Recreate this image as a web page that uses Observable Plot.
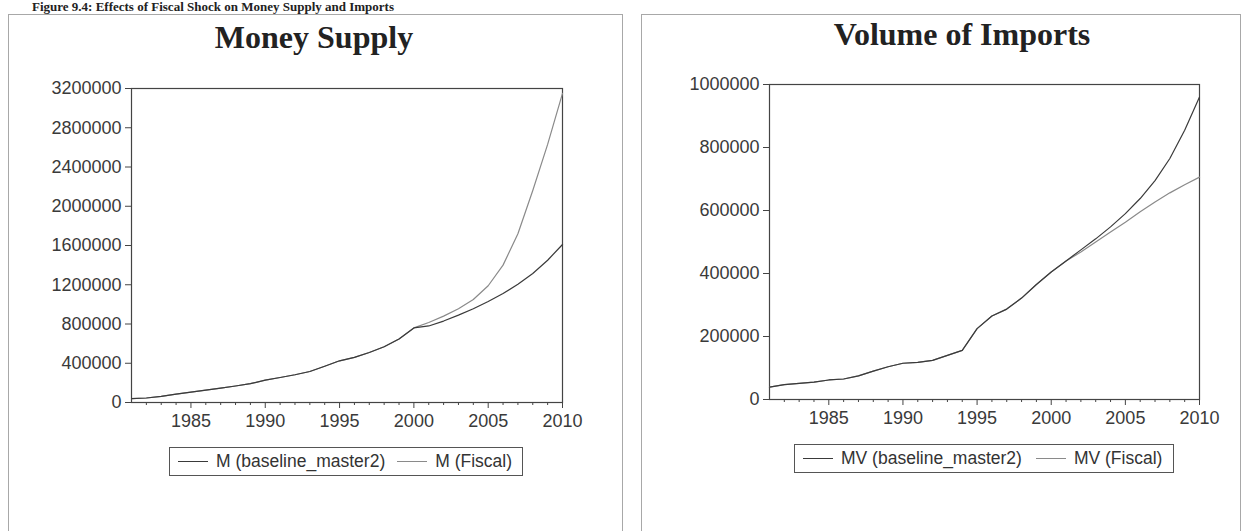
<!DOCTYPE html>
<html>
<head>
<meta charset="utf-8">
<script src="https://cdn.jsdelivr.net/npm/d3@7"></script>
<script src="https://cdn.jsdelivr.net/npm/@observablehq/plot@0.6"></script>
<style>
  html, body { margin: 0; padding: 0; background: #fff; }
  #root { position: relative; width: 1248px; height: 531px; overflow: hidden; background: #fff; }
  .caption, .title { position: absolute; font-family: "Liberation Serif", "Times New Roman", serif; font-weight: bold; color: #222; white-space: nowrap; }
  .title { font-size: 32px; line-height: 32px; }
  .caption { font-size: 13px; line-height: 13px; }
  .panel { position: absolute; border: 1px solid #a8a8a8; box-sizing: border-box; }
  .plotbox { position: absolute; }
  .legend { position: absolute; border: 1px solid #555; box-sizing: border-box; display: flex; align-items: center;
            font-family: "Liberation Sans", Arial, sans-serif; font-size: 17.5px; color: #333; white-space: nowrap; }
  .legend .sw { display: inline-block; width: 30px; height: 0; border-top: 1.2px solid #333; margin-right: 8px; }
</style>
</head>
<body>
<div id="root"></div>
<script>
// ---- data ----
const years = [1981,1982,1983,1984,1985,1986,1987,1988,1989,1990,1991,1992,1993,1994,1995,1996,1997,1998,1999,2000,2001,2002,2003,2004,2005,2006,2007,2008,2009,2010];
const majorYears = [1985,1990,1995,2000,2005,2010];
const minorYears = [1982,1983,1984,1986,1987,1988,1989,1991,1992,1993,1994,1996,1997,1998,1999,2001,2002,2003,2004,2006,2007,2008,2009];

const mBaseline = [40000,46000,62000,86000,106000,126000,147000,168000,192000,228000,255000,283000,316000,370000,425000,460000,510000,568000,648000,760000,780000,830000,890000,955000,1030000,1110000,1205000,1315000,1450000,1610000];
const mFiscal   = [40000,46000,62000,86000,106000,126000,147000,168000,192000,228000,255000,283000,316000,370000,425000,460000,510000,568000,648000,760000,815000,880000,955000,1050000,1190000,1400000,1720000,2160000,2630000,3150000];
const mTicks = [0,400000,800000,1200000,1600000,2000000,2400000,2800000,3200000];

const mvBaseline = [39000,47000,51000,55000,62000,65000,75000,90000,104000,115000,118000,124000,140000,156000,225000,265000,287000,322000,365000,405000,440000,475000,510000,548000,590000,638000,695000,765000,855000,960000];
const mvFiscal   = [39000,47000,51000,55000,62000,65000,75000,90000,104000,115000,118000,124000,140000,156000,225000,265000,287000,322000,365000,405000,440000,468000,500000,532000,563000,596000,627000,656000,682000,706000];
const mvTicks = [0,200000,400000,600000,800000,1000000];

const captionText = "Figure 9.4: Effects of Fiscal Shock on Money Supply and Imports";
const titles = ["Money Supply", "Volume of Imports"];
const legendLabels = [["M (baseline_master2)", "M (Fiscal)"], ["MV (baseline_master2)", "MV (Fiscal)"]];
const colors = ["#3a3a3a", "#8a8a8a"];

// ---- layout ----
const root = document.getElementById("root");
function el(tag, cls, css, text) {
  const e = document.createElement(tag);
  if (cls) e.className = cls;
  Object.assign(e.style, css || {});
  if (text != null) e.textContent = text;
  root.appendChild(e);
  return e;
}

el("div", "caption", {left: "32px", top: "0px"}, captionText);
el("div", "panel", {left: "8px", top: "14px", width: "615px", height: "540px"});
el("div", "panel", {left: "641px", top: "14px", width: "600px", height: "540px"});

const fontFamily = '"Liberation Sans", Arial, sans-serif';

function makeChart(opts) {
  return Plot.plot({
    width: opts.width, height: opts.height,
    marginLeft: opts.ml, marginRight: opts.mr, marginTop: opts.mt, marginBottom: opts.mb,
    x: {domain: [1981, 2010]},
    y: {domain: opts.ydomain},
    style: {fontFamily, fontSize: "18px", color: "#3a3a3a", background: "transparent", overflow: "visible"},
    marks: [
      Plot.frame({stroke: "#444", strokeWidth: 1.2}),
      Plot.axisY({ticks: opts.yticks, tickFormat: d3.format("d"), tickSize: 6, tickPadding: 4, label: null, stroke: "#444"}),
      Plot.axisX({ticks: majorYears, tickFormat: d3.format("d"), tickSize: 6, tickPadding: 6, label: null, stroke: "#444"}),
      Plot.axisX({ticks: minorYears, tickSize: 3, text: null, label: null, stroke: "#444"}),
      Plot.lineY(opts.fiscal, {x: years, stroke: colors[1], strokeWidth: 1.2}),
      Plot.lineY(opts.base, {x: years, stroke: colors[0], strokeWidth: 1.2})
    ]
  });
}

const left = makeChart({width: 614, height: 382, ml: 123, mr: 60, mt: 28, mb: 40,
  ydomain: [0, 3200000], yticks: mTicks, base: mBaseline, fiscal: mFiscal});
const lb = el("div", "plotbox", {left: "8px", top: "60px"}); lb.appendChild(left);

const right = makeChart({width: 599, height: 383, ml: 128, mr: 41, mt: 28, mb: 40,
  ydomain: [0, 1000000], yticks: mvTicks, base: mvBaseline, fiscal: mvFiscal});
const rb = el("div", "plotbox", {left: "641px", top: "56px"}); rb.appendChild(right);

// titles
el("div", "title", {left: "314px", top: "21px", transform: "translateX(-50%)"}, titles[0]);
el("div", "title", {left: "962px", top: "18px", transform: "translateX(-50%)"}, titles[1]);

// legends
function legend(x, y, w, h, labels, gap) {
  const L = el("div", "legend", {left: x + "px", top: y + "px", width: w + "px", height: h + "px", paddingLeft: "8px"});
  labels.forEach((lab, i) => {
    const sw = document.createElement("span"); sw.className = "sw";
    sw.style.borderTopColor = colors[i];
    if (i > 0) sw.style.marginLeft = gap + "px";
    const tx = document.createElement("span"); tx.textContent = lab;
    L.appendChild(sw); L.appendChild(tx);
  });
}
legend(169, 447, 354, 29, legendLabels[0], 12);
legend(794, 444, 380, 29, legendLabels[1], 14);
</script>
</body>
</html>
